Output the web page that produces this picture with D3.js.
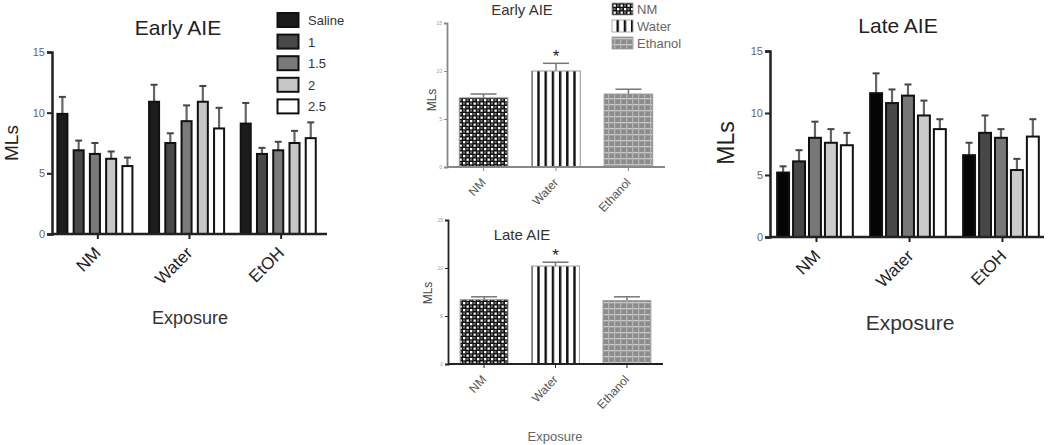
<!DOCTYPE html>
<html><head><meta charset="utf-8">
<script src="https://cdn.jsdelivr.net/npm/d3@7"></script>
<style>
body{margin:0;background:#fff;}
svg{display:block;font-family:"Liberation Sans",Arial,sans-serif;}
</style></head>
<body><svg id="chart" width="1050" height="445"></svg>
<script>
// ---------- DATA ----------
const exposures = ["NM", "Water", "EtOH"];
const doses = ["Saline", "1", "1.5", "2", "2.5"];
const yTicks = [0, 5, 10, 15];

// Early AIE (left) means and upper error ends, per exposure, per dose
const earlyMeans = [
  [9.9, 6.9, 6.6, 6.2, 5.6],
  [10.9, 7.5, 9.3, 10.9, 8.7],
  [9.1, 6.6, 6.9, 7.5, 7.9]
];
const earlyErr = [
  [11.3, 7.7, 7.5, 6.8, 6.3],
  [12.3, 8.3, 10.6, 12.2, 10.4],
  [10.8, 7.1, 7.6, 8.5, 9.2]
];
// Late AIE (right)
const lateMeans = [
  [5.2, 6.1, 8.0, 7.6, 7.4],
  [11.6, 10.8, 11.4, 9.8, 8.7],
  [6.6, 8.4, 8.0, 5.4, 8.1]
];
const lateErr = [
  [5.7, 7.0, 9.3, 8.7, 8.4],
  [13.2, 11.9, 12.3, 11.0, 9.5],
  [7.6, 9.8, 8.7, 6.3, 9.5]
];
// Collapsed (middle) charts
const pooledCats = ["NM", "Water", "Ethanol"];
const pooledEarly = [7.2, 10.0, 7.6];
const pooledEarlyErr = [7.6, 10.8, 8.1];
const pooledLate = [6.7, 10.2, 6.6];
const pooledLateErr = [7.0, 10.6, 7.0];
const starFlags = [false, true, false];

// ---------- DRAWING ----------
const svg = d3.select("#chart");
const doseColorsL = ["#1c1c1c", "#494949", "#7a7a7a", "#c6c6c6", "#ffffff"];
const doseColorsR = ["#050505", "#474747", "#777777", "#cbcbcb", "#ffffff"];

const defs = svg.append("defs");
// checkerboard
const pc = defs.append("pattern").attr("id","pNM").attr("patternUnits","userSpaceOnUse").attr("width",7).attr("height",7);
pc.append("rect").attr("width",7).attr("height",7).attr("fill","#111");
pc.append("rect").attr("x",1).attr("y",1).attr("width",2.3).attr("height",2.3).attr("fill","#fff");
pc.append("rect").attr("x",4.5).attr("y",4.5).attr("width",2.3).attr("height",2.3).attr("fill","#fff");
pc.append("rect").attr("x",4.5).attr("y",1).attr("width",2).attr("height",2).attr("fill","#777");
pc.append("rect").attr("x",1).attr("y",4.5).attr("width",2).attr("height",2).attr("fill","#777");
// stripes
const ps = defs.append("pattern").attr("id","pW").attr("patternUnits","userSpaceOnUse").attr("width",7.2).attr("height",10);
ps.append("rect").attr("width",7.2).attr("height",10).attr("fill","#fff");
ps.append("rect").attr("x",4.5).attr("width",2.4).attr("height",10).attr("fill","#111");
// grey grid
const pg = defs.append("pattern").attr("id","pE").attr("patternUnits","userSpaceOnUse").attr("width",6).attr("height",6);
pg.append("rect").attr("width",6).attr("height",6).attr("fill","#8c8c8c");
pg.append("rect").attr("y",2).attr("width",6).attr("height",1.3).attr("fill","#c9c9c9");
pg.append("rect").attr("x",2).attr("width",1.3).attr("height",6).attr("fill","#b5b5b5");
const patterns = ["url(#pNM)", "url(#pW)", "url(#pE)"];

function groupedChart(o) {
  const g = svg.append("g");
  const y = d3.scaleLinear().domain([0, 15]).range([o.y0, o.y15]);
  const x0 = d3.scaleBand().domain(exposures).range(o.xr).paddingInner(0).paddingOuter(0);
  const x1 = d3.scaleBand().domain(doses).range([0, x0.bandwidth()]).paddingInner(o.pi).paddingOuter(o.po).align(o.align);
  exposures.forEach((e, i) => {
    doses.forEach((d, j) => {
      const xl = x0(e) + x1(d), w = x1.bandwidth();
      const cx = xl + w / 2;
      g.append("line").attr("x1", cx).attr("x2", cx).attr("y1", y(o.means[i][j])).attr("y2", y(o.err[i][j]))
        .attr("stroke", "#666").attr("stroke-width", 2.2);
      g.append("line").attr("x1", cx - 3.5).attr("x2", cx + 3.5).attr("y1", y(o.err[i][j])).attr("y2", y(o.err[i][j]))
        .attr("stroke", "#444").attr("stroke-width", 2);
      g.append("rect").attr("x", xl + 1).attr("y", y(o.means[i][j])).attr("width", w - 2)
        .attr("height", y(0) - y(o.means[i][j])).attr("fill", o.colors[j])
        .attr("stroke", "#111").attr("stroke-width", 2);
    });
  });
  const ya = g.append("g").attr("transform", `translate(${o.xr[0]},0)`).attr("color", "#222")
    .call(d3.axisLeft(y).tickValues(yTicks).tickSize(5).tickPadding(2));
  ya.select(".domain").attr("stroke-width", 2.5);
  ya.selectAll(".tick line").attr("stroke-width", 2);
  ya.selectAll("text").attr("font-size", o.tickFs).attr("fill", "#666");
  const xa = g.append("g").attr("transform", `translate(0,${o.y0})`).attr("color", "#222")
    .call(d3.axisBottom(x0).tickSize(5).tickSizeOuter(0).tickFormat(() => ""));
  xa.select(".domain").attr("stroke-width", 2.5).attr("d", `M${o.xr[0]},0H${o.axEnd}`);
  xa.selectAll(".tick line").attr("stroke-width", 2);
  exposures.forEach(e => {
    const cx = x0(e) + x0.bandwidth() / 2 + o.lblDx;
    g.append("text").attr("transform", `translate(${cx},${o.y0 + o.lblDy}) rotate(-45)`)
      .attr("text-anchor", "end").attr("font-size", o.lblFs).attr("fill", "#222").text(e);
  });
  g.append("text").attr("x", o.titleX).attr("y", o.titleY).attr("text-anchor", "middle")
    .attr("font-size", o.titleFs).attr("fill", "#222").text(o.title);
  g.append("text").attr("transform", `translate(${o.ylabX},${o.ylabY}) rotate(-90)`).attr("text-anchor", "middle")
    .attr("font-size", o.ylabFs).attr("fill", "#222").text("MLs");
  g.append("text").attr("x", o.xlabX).attr("y", o.xlabY).attr("text-anchor", "middle")
    .attr("font-size", o.xlabFs).attr("fill", "#333").text("Exposure");
}

groupedChart({means: earlyMeans, err: earlyErr, colors: doseColorsL, y0: 234, y15: 52, xr: [52, 327], axEnd: 327,
  pi: 0.26, po: 0.45, align: 0.3, tickFs: 11, lblFs: 17, lblDx: 4, lblDy: 20,
  title: "Early AIE", titleX: 178, titleY: 35, titleFs: 21, ylabX: 18, ylabY: 143, ylabFs: 19,
  xlabX: 190, xlabY: 324, xlabFs: 18});

groupedChart({means: lateMeans, err: lateErr, colors: doseColorsR, y0: 237, y15: 51, xr: [770, 1049], axEnd: 1044,
  pi: 0.125, po: 0.48, align: 0.4, tickFs: 11, lblFs: 17, lblDx: 5, lblDy: 20,
  title: "Late AIE", titleX: 898, titleY: 33, titleFs: 21, ylabX: 734, ylabY: 143, ylabFs: 23,
  xlabX: 910, xlabY: 330, xlabFs: 21});

// left legend
const leg = svg.append("g");
doses.forEach((d, j) => {
  const yy = 13 + j * 21.6;
  leg.append("rect").attr("x", 277.5).attr("y", yy).attr("width", 21).attr("height", 14)
    .attr("fill", doseColorsL[j]).attr("stroke", "#111").attr("stroke-width", 2);
  leg.append("text").attr("x", 308).attr("y", yy + 12).attr("font-size", 13).attr("fill", "#333").text(d);
});

function pooledChart(o) {
  const g = svg.append("g");
  const y = d3.scaleLinear().domain([0, 15]).range([o.y0, o.y15]);
  const x = d3.scaleBand().domain(pooledCats).range([o.x0, o.x1]).paddingInner(0.33).paddingOuter(0.17);
  pooledCats.forEach((c, i) => {
    const cx = x(c) + x.bandwidth() / 2;
    g.append("line").attr("x1", cx).attr("x2", cx).attr("y1", y(o.vals[i])).attr("y2", y(o.errs[i]))
      .attr("stroke", "#777").attr("stroke-width", 1.5);
    g.append("line").attr("x1", cx - 13).attr("x2", cx + 13).attr("y1", y(o.errs[i])).attr("y2", y(o.errs[i]))
      .attr("stroke", "#777").attr("stroke-width", 1.5);
    g.append("rect").attr("x", x(c)).attr("y", y(o.vals[i])).attr("width", x.bandwidth())
      .attr("height", y(0) - y(o.vals[i])).attr("fill", patterns[i]).attr("stroke", "#999").attr("stroke-width", 1);
    if (starFlags[i]) g.append("text").attr("x", cx).attr("y", y(o.errs[i]) - 1).attr("text-anchor", "middle")
      .attr("font-size", 17).attr("fill", "#222").text("*");
  });
  const ya = g.append("g").attr("transform", `translate(${o.x0},0)`).attr("color", o.axCol)
    .call(d3.axisLeft(y).tickValues(yTicks).tickSize(3).tickPadding(2));
  ya.select(".domain").attr("stroke-width", 1.8);
  ya.selectAll("text").attr("font-size", 5).attr("fill", "#999");
  const xa = g.append("g").attr("transform", `translate(0,${o.y0})`).attr("color", o.axCol)
    .call(d3.axisBottom(x).tickSize(4).tickSizeOuter(0).tickFormat(() => ""));
  xa.select(".domain").attr("stroke-width", 1.8).attr("d", `M${o.x0},0H${o.x1}`);
  pooledCats.forEach(c => {
    const cx = x(c) + x.bandwidth() / 2 + 3;
    g.append("text").attr("transform", `translate(${cx},${o.y0 + 16}) rotate(-47)`)
      .attr("text-anchor", "end").attr("font-size", 12).attr("fill", "#555").text(c);
  });
  g.append("text").attr("x", o.titleX).attr("y", o.titleY).attr("text-anchor", "middle")
    .attr("font-size", 15).attr("fill", "#333").text(o.title);
  g.append("text").attr("transform", `translate(${o.ylabX},${o.ylabY}) rotate(-90)`).attr("text-anchor", "middle")
    .attr("font-size", 12).attr("fill", "#444").text("MLs");
}

pooledChart({vals: pooledEarly, errs: pooledEarlyErr, y0: 167, y15: 23, x0: 447, x1: 665, axCol: "#888",
  title: "Early AIE", titleX: 522, titleY: 15, ylabX: 436, ylabY: 100});
pooledChart({vals: pooledLate, errs: pooledLateErr, y0: 364, y15: 220, x0: 448, x1: 663, axCol: "#222",
  title: "Late AIE", titleX: 522, titleY: 240, ylabX: 432, ylabY: 293});

svg.append("text").attr("x", 555).attr("y", 441).attr("text-anchor", "middle")
  .attr("font-size", 13).attr("fill", "#666").text("Exposure");

// middle legend
const leg2 = svg.append("g");
pooledCats.forEach((c, i) => {
  const yy = 3 + i * 17;
  leg2.append("rect").attr("x", 612).attr("y", yy).attr("width", 21).attr("height", 12)
    .attr("fill", patterns[i]).attr("stroke", "#999").attr("stroke-width", 0.8);
  leg2.append("text").attr("x", 637).attr("y", yy + 11).attr("font-size", 13).attr("fill", "#666").text(c);
});
</script></body></html>
